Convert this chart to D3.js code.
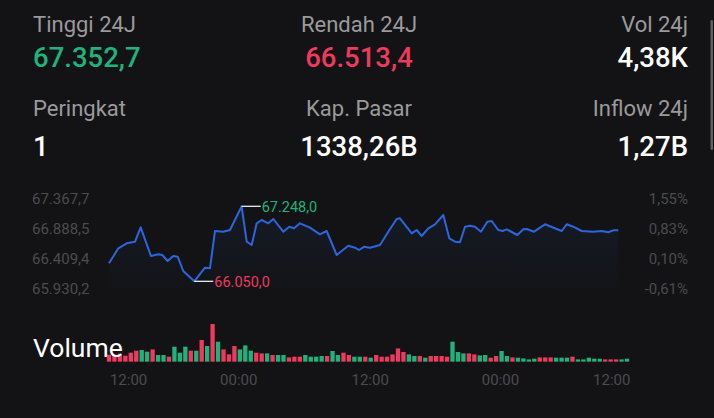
<!DOCTYPE html>
<html><head><meta charset="utf-8">
<script src="https://cdn.jsdelivr.net/npm/d3@7"></script>
<style>
html,body{margin:0;padding:0;background:#131315;overflow:hidden}
svg{display:block}
text{font-family:Roboto,"Noto Sans",sans-serif}
</style>
</head><body>
<svg id="c" width="714" height="418"></svg>
<script>
// ---- data ----
const statLabels = ["Tinggi 24J", "Rendah 24J", "Vol 24j", "Peringkat", "Kap. Pasar", "Inflow 24j"];
const statValues = ["67.352,7", "66.513,4", "4,38K", "1", "1338,26B", "1,27B"];
const statKinds  = ["up", "down", "plain", "plain", "plain", "plain"];

const priceTicks      = [67367.7, 66888.5, 66409.4, 65930.2];
const priceTickLabels = ["67.367,7", "66.888,5", "66.409,4", "65.930,2"];
const pctTickLabels   = ["1,55%", "0,83%", "0,10%", "-0,61%"];

const timeTickPos    = [3.6, 23.8, 47.9, 71.8, 92.2];
const timeTickLabels = ["12:00", "00:00", "12:00", "00:00", "12:00"];

// line: slot position and price
const lineT = [0, 1.71, 3.24, 4.77, 5.81, 7.70, 9.04, 9.77, 10.76, 11.79, 12.60, 13.62, 15.64, 17.60, 18.52,
  19.44, 20.96, 22.19, 24.33, 25.25, 26.17, 27.09, 28.0, 29.21, 30.13, 31.96, 33.06, 33.93, 35.02, 36.86,
  38.69, 39.92, 41.75, 43.89, 45.12, 45.85, 46.82, 47.87, 49.70, 51.22, 52.76, 53.36, 55.52, 56.43, 57.35,
  58.56, 59.79, 61.31, 62.41, 63.45, 64.37, 65.29, 66.21, 67.12, 68.22, 69.38, 70.19, 71.39, 72.20, 72.94,
  74.88, 75.98, 76.61, 77.94, 79.96, 83.02, 83.94, 85.15, 86.69, 88.81, 90.36, 91.57, 92.48, 93.40];
const linePrice = [66337.4, 66577.0, 66656.9, 66682.5, 66912.5, 66454.0, 66481.2, 66470.0, 66374.2, 66454.0,
  66442.9, 66214.4, 66050.0, 66267.2, 66257.6, 66853.4, 66842.2, 66869.3, 67248.0, 66682.5, 66629.7, 66976.4,
  67029.1, 66976.4, 67045.0, 66842.2, 66922.1, 66896.5, 66976.4, 66906.1, 66800.7, 66853.4, 66470.0, 66618.6,
  66586.6, 66549.9, 66602.6, 66586.6, 66629.7, 66842.2, 67045.0, 67056.2, 66816.6, 66869.3, 66773.5, 66896.5,
  66960.4, 67108.9, 66736.8, 66682.5, 66672.9, 66922.1, 66938.0, 66922.1, 66842.2, 67001.9, 67013.1, 66869.3,
  66853.4, 66880.5, 66789.5, 66880.5, 66885.3, 66842.2, 66960.4, 66853.4, 66960.4, 66922.1, 66853.4, 66842.2,
  66853.4, 66832.6, 66864.5, 66864.5];

// volume bars (1 = up / green, 0 = down / red)
const volumes = [70, 70, 80, 60, 90, 110, 117, 100, 123, 67, 67, 50, 150, 90, 150, 110, 110, 217, 157, 377,
  200, 123, 73, 157, 123, 163, 110, 90, 83, 83, 67, 67, 67, 43, 50, 50, 67, 50, 50, 57,
  57, 107, 67, 90, 67, 50, 50, 50, 40, 67, 50, 50, 73, 133, 97, 73, 57, 57, 40, 57,
  57, 57, 50, 200, 97, 83, 83, 73, 63, 67, 40, 57, 107, 57, 43, 40, 33, 23, 30, 43,
  43, 43, 40, 40, 40, 50, 23, 23, 40, 30, 30, 23, 23, 23, 23, 30];
const volDir = [0, 0, 0, 0, 0, 0, 1, 1, 0, 1, 1, 0, 1, 1, 1, 0, 1, 0, 1, 0,
  1, 0, 0, 0, 1, 1, 1, 0, 0, 1, 0, 1, 1, 0, 0, 0, 1, 1, 1, 1,
  0, 1, 1, 0, 0, 1, 1, 0, 1, 0, 0, 0, 0, 0, 0, 1, 1, 0, 1, 0,
  0, 0, 0, 1, 1, 1, 0, 0, 1, 1, 0, 0, 1, 1, 0, 1, 1, 1, 1, 0,
  0, 0, 1, 1, 1, 0, 1, 1, 1, 1, 1, 0, 0, 0, 1, 1];

// ---- drawing ----
const GREEN = "#20b27a", RED = "#ee3a5e", BLUE = "#2c66de";
const svg = d3.select("#c");
svg.append("rect").attr("width", 714).attr("height", 418).attr("fill", "#131315");

// header stats
const colX = [33, 359, 688], colAnchor = ["start", "middle", "end"];
const rowLabelY = [32, 116], rowValueY = [67, 156];
statLabels.forEach((lab, i) => {
  const c = i % 3, r = Math.floor(i / 3);
  svg.append("text").attr("x", colX[c]).attr("y", rowLabelY[r]).attr("text-anchor", colAnchor[c])
    .attr("font-size", 22).attr("fill", "#9a9a9c").text(lab);
  svg.append("text").attr("x", colX[c]).attr("y", rowValueY[r]).attr("text-anchor", colAnchor[c])
    .attr("font-size", 27.5).attr("font-weight", 500)
    .attr("fill", statKinds[i] === "up" ? GREEN : statKinds[i] === "down" ? RED : "#ffffff")
    .text(statValues[i]);
});
// scroll indicator
svg.append("rect").attr("x", 710.5).attr("y", 20).attr("width", 2.5).attr("height", 130).attr("rx", 1.2)
  .attr("fill", "#606064");

// scales
const x = d3.scaleLinear().domain([0, 95]).range([109, 627]);
const y = d3.scaleLinear().domain([65930.2, 67367.7]).range([288.8, 198.8]);
const yV = d3.scaleLinear().domain([0, d3.max(volumes)]).range([361.7, 324]);

// price axis labels
const g = svg.append("g").attr("font-size", 15).attr("fill", "#4b4b4f");
priceTicks.forEach((t, i) => {
  g.append("text").attr("x", 32).attr("y", y(t)).attr("dy", "0.36em").text(priceTickLabels[i]);
  g.append("text").attr("x", 688).attr("y", y(t)).attr("dy", "0.36em").attr("text-anchor", "end").text(pctTickLabels[i]);
});

// area + line
const pts = lineT.map((t, i) => ({t, p: linePrice[i]}));
const defs = svg.append("defs");
const grad = defs.append("linearGradient").attr("id", "ag").attr("x1", 0).attr("x2", 0).attr("y1", 0).attr("y2", 1);
grad.append("stop").attr("offset", "0%").attr("stop-color", BLUE).attr("stop-opacity", 0.09);
grad.append("stop").attr("offset", "100%").attr("stop-color", BLUE).attr("stop-opacity", 0.01);
svg.append("path").datum(pts).attr("fill", "url(#ag)")
  .attr("d", d3.area().x(d => x(d.t)).y0(y(65930.2)).y1(d => y(d.p)));
svg.append("path").datum(pts).attr("fill", "none").attr("stroke", BLUE).attr("stroke-width", 2)
  .attr("stroke-linejoin", "round")
  .attr("d", d3.line().x(d => x(d.t)).y(d => y(d.p)));

// max / min annotations
const loc = d3.formatLocale({decimal: ",", thousands: ".", grouping: [3], currency: ["", ""]});
const fmt = loc.format(",.1f");
const iMax = d3.maxIndex(linePrice), iMin = d3.minIndex(linePrice);
[[iMax, GREEN], [iMin, RED]].forEach(([i, col]) => {
  const px = x(lineT[i]), py = y(linePrice[i]);
  svg.append("line").attr("x1", px).attr("x2", px + 19).attr("y1", py).attr("y2", py)
    .attr("stroke", "#ffffff").attr("stroke-width", 1.2);
  svg.append("text").attr("x", px + 20).attr("y", py).attr("dy", "0.36em")
    .attr("font-size", 14.5).attr("fill", col).text(fmt(linePrice[i]));
});

// volume bars
svg.append("g").selectAll("rect").data(volumes).join("rect")
  .attr("x", (d, i) => x(i) - 2.15).attr("width", 4.3)
  .attr("y", d => yV(d)).attr("height", d => yV(0) - yV(d))
  .attr("fill", (d, i) => volDir[i] ? GREEN : RED);

svg.append("text").attr("x", 33).attr("y", 357).attr("font-size", 26.5).attr("fill", "#ffffff").text("Volume");

// time axis
const tg = svg.append("g").attr("font-size", 15).attr("fill", "#4b4b4f").attr("text-anchor", "middle");
timeTickPos.forEach((p, i) => {
  tg.append("text").attr("x", x(p)).attr("y", 380).attr("dy", "0.36em").text(timeTickLabels[i]);
});
</script>
</body></html>
